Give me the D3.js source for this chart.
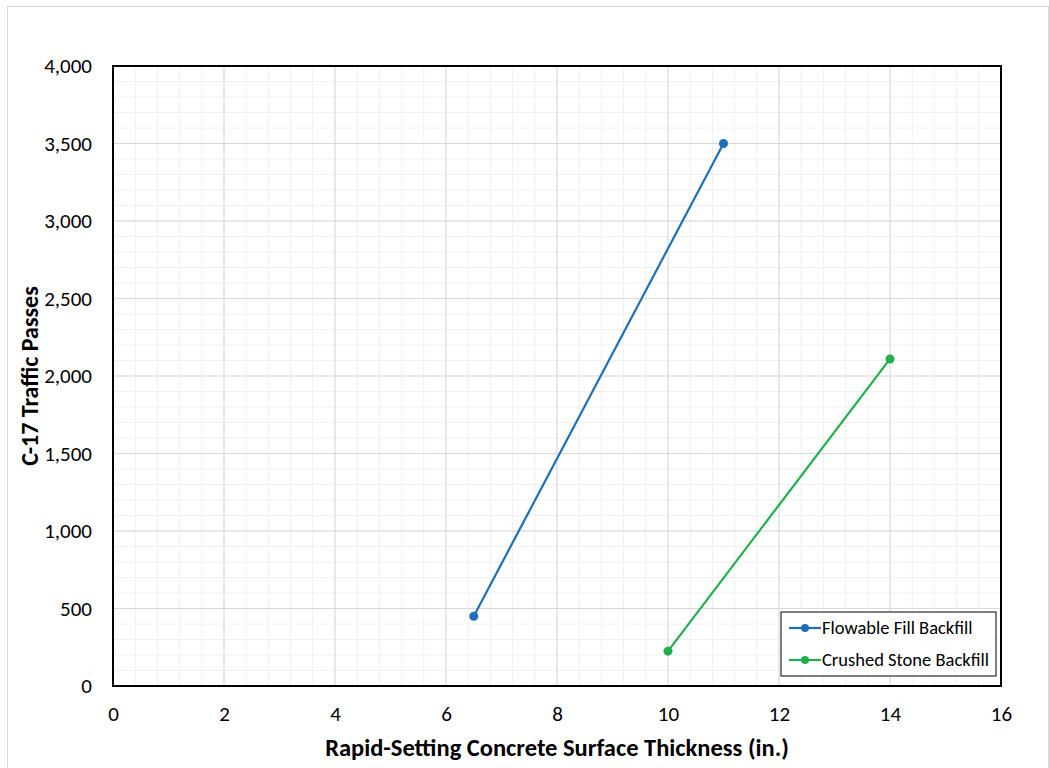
<!DOCTYPE html>
<html>
<head>
<meta charset="utf-8">
<script src="https://cdn.jsdelivr.net/npm/d3@7"></script>
<style>
  body { margin: 0; background: #fff; }
  text { font-family: Carlito, Calibri, Lato, "Liberation Sans", sans-serif; }
</style>
</head>
<body>
<div id="chart"></div>
<script>
// data
const seriesNames = ["Flowable Fill Backfill", "Crushed Stone Backfill"];
const seriesColors = ["#1f6fb8", "#1fb04b"];
const flowableX = [6.5, 11];
const flowableY = [450, 3500];
const crushedX = [10, 14];
const crushedY = [225, 2110];
const xTicks = [0, 2, 4, 6, 8, 10, 12, 14, 16];
const yTicks = [0, 500, 1000, 1500, 2000, 2500, 3000, 3500, 4000];

const W = 1049, H = 768;
const margin = {top: 66, right: 48, bottom: 82, left: 113};
const width = W - margin.left - margin.right,
      height = H - margin.top - margin.bottom;
const fontStack = "Carlito, Calibri, Lato, sans-serif";

const root = d3.select("#chart").append("svg")
    .attr("width", W)
    .attr("height", H);

// outer chart border
root.append("rect")
    .attr("x", 7.5).attr("y", 6.5)
    .attr("width", W - 8).attr("height", H - 6)
    .attr("fill", "none")
    .attr("stroke", "#d9d9d9");

const svg = root.append("g")
    .attr("transform", "translate(" + margin.left + "," + margin.top + ")");

const x = d3.scaleLinear().domain([0, 16]).range([0, width]);
const y = d3.scaleLinear().domain([0, 4000]).range([height, 0]);

// minor grid
svg.append("g").selectAll("line")
    .data(d3.range(0, 16.01, 0.4))
    .join("line")
    .attr("x1", d => x(d)).attr("x2", d => x(d))
    .attr("y1", 0).attr("y2", height)
    .attr("stroke", "#f0f0f0").attr("stroke-width", 1);
svg.append("g").selectAll("line")
    .data(d3.range(0, 4001, 100))
    .join("line")
    .attr("x1", 0).attr("x2", width)
    .attr("y1", d => y(d)).attr("y2", d => y(d))
    .attr("stroke", "#f0f0f0").attr("stroke-width", 1);

// major grid
svg.append("g").selectAll("line")
    .data(xTicks)
    .join("line")
    .attr("x1", d => x(d)).attr("x2", d => x(d))
    .attr("y1", 0).attr("y2", height)
    .attr("stroke", "#d9d9d9").attr("stroke-width", 1);
svg.append("g").selectAll("line")
    .data(yTicks)
    .join("line")
    .attr("x1", 0).attr("x2", width)
    .attr("y1", d => y(d)).attr("y2", d => y(d))
    .attr("stroke", "#d9d9d9").attr("stroke-width", 1);

// axes
const xAxis = d3.axisBottom(x).tickValues(xTicks).tickSize(0).tickPadding(20);
const yAxis = d3.axisLeft(y).tickValues(yTicks).tickSize(0).tickPadding(21)
    .tickFormat(d3.format(","));

svg.append("g")
    .attr("transform", "translate(0," + height + ")")
    .call(xAxis)
    .call(g => g.select(".domain").remove())
    .selectAll("text")
    .attr("font-size", 21).attr("fill", "#000")
    .style("font-family", fontStack);

svg.append("g")
    .call(yAxis)
    .call(g => g.select(".domain").remove())
    .selectAll("text")
    .attr("font-size", 21).attr("fill", "#000")
    .style("font-family", fontStack);

// plot border
svg.append("rect")
    .attr("width", width).attr("height", height)
    .attr("fill", "none")
    .attr("stroke", "#000").attr("stroke-width", 2);

// series
const series = [
  {name: seriesNames[0], color: seriesColors[0], pts: flowableX.map((v, i) => [v, flowableY[i]])},
  {name: seriesNames[1], color: seriesColors[1], pts: crushedX.map((v, i) => [v, crushedY[i]])}
];

const line = d3.line().x(d => x(d[0])).y(d => y(d[1]));

series.forEach(s => {
  svg.append("path")
      .datum(s.pts)
      .attr("d", line)
      .attr("fill", "none")
      .attr("stroke", s.color)
      .attr("stroke-width", 2.2);
  svg.append("g").selectAll("circle")
      .data(s.pts)
      .join("circle")
      .attr("cx", d => x(d[0]))
      .attr("cy", d => y(d[1]))
      .attr("r", 4.5)
      .attr("fill", s.color);
});

// axis titles
root.append("text")
    .attr("x", margin.left + width / 2)
    .attr("y", 756)
    .attr("text-anchor", "middle")
    .attr("font-size", 24.5).attr("font-weight", "bold")
    .text("Rapid-Setting Concrete Surface Thickness (in.)");

root.append("text")
    .attr("transform", "translate(38," + (margin.top + height / 2) + ") rotate(-90)")
    .attr("text-anchor", "middle")
    .attr("font-size", 24).attr("font-weight", "bold")
    .text("C-17 Traffic Passes");

// legend
const lg = root.append("g").attr("transform", "translate(781,612)");
lg.append("rect")
    .attr("width", 215).attr("height", 64)
    .attr("fill", "#fff")
    .attr("stroke", "#000").attr("stroke-width", 1);
series.forEach((s, i) => {
  const row = lg.append("g").attr("transform", "translate(0," + (16 + i * 32) + ")");
  row.append("line")
      .attr("x1", 8).attr("x2", 40)
      .attr("stroke", s.color).attr("stroke-width", 2.2);
  row.append("circle").attr("cx", 24).attr("r", 4).attr("fill", s.color);
  row.append("text")
      .attr("x", 41).attr("dy", "0.35em")
      .attr("font-size", 18.5)
      .text(s.name);
});
</script>
</body>
</html>
